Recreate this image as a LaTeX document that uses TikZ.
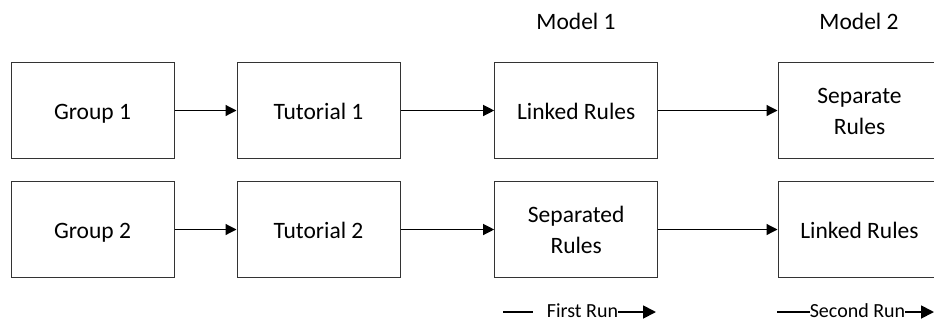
\documentclass[tikz,border=0pt]{standalone}
\usepackage{fontspec}
\setmainfont{Carlito}
\usetikzlibrary{arrows.meta}
\newcommand{\twolines}[2]{\begin{tabular}{@{}c@{}}#1\\#2\end{tabular}}
\begin{document}
\begin{tikzpicture}[x=1pt,y=-1pt,
  box/.style={draw=black!80,line width=1pt,minimum width=163pt,minimum height=95.6pt,
    inner sep=0pt,font=\fontsize{23.5}{31}\selectfont,
    text height=17.6pt,text depth=0pt},
  conn/.style={line width=1.2pt,-{Triangle[length=11pt,width=11pt]}},
  runline/.style={line width=1.8pt},
  runarrow/.style={line width=1.8pt,-{Triangle[length=13pt,width=13pt]}},
  lbl/.style={font=\fontsize{23.5}{28}\selectfont,anchor=base,inner sep=0pt},
  runlbl/.style={font=\fontsize{20}{24}\selectfont,anchor=base,inner sep=0pt}]
\useasboundingbox (0,0) rectangle (934,322);
\clip (0,0) rectangle (934,322);
% row 1
\node[box] (g1) at (92.5,110.5) {Group 1};
\node[box] (t1) at (318.5,110.5) {Tutorial 1};
\node[box] (m11) at (576.2,110.5) {Linked Rules};
\node[box] (m21) at (859.5,110.5) {\twolines{Separate}{Rules}};
% row 2
\node[box] (g2) at (92.5,229.5) {Group 2};
\node[box] (t2) at (318.5,229.5) {Tutorial 2};
\node[box] (m12) at (576.2,229.5) {\twolines{Separated}{Rules}};
\node[box] (m22) at (859.5,229.5) {Linked Rules};
% connectors
\draw[conn] (g1) -- (t1);
\draw[conn] (t1) -- (m11);
\draw[conn] (m11) -- (m21);
\draw[conn] (g2) -- (t2);
\draw[conn] (t2) -- (m12);
\draw[conn] (m12) -- (m22);
% model labels
\node[lbl] (mod1) at (576,29) {Model 1};
\node[lbl] (mod2) at (859,29) {Model 2};
% run labels
\node[runlbl] (fr) at (582.5,317.5) {First Run};
\coordinate (fra) at (503,312);
\coordinate (frb) at (533,312);
\coordinate (frc) at (656,312);
\draw[runline] (fra) -- (frb);
\draw[runarrow] (fr.east |- frc) -- (frc);
\node[runlbl] (sr) at (857.5,317.5) {Second Run};
\coordinate (sra) at (777,312);
\coordinate (src) at (934,312);
\draw[runline] (sra) -- (sr.west |- sra);
\draw[runarrow] (sr.east |- src) -- (src);
\end{tikzpicture}
\end{document}
